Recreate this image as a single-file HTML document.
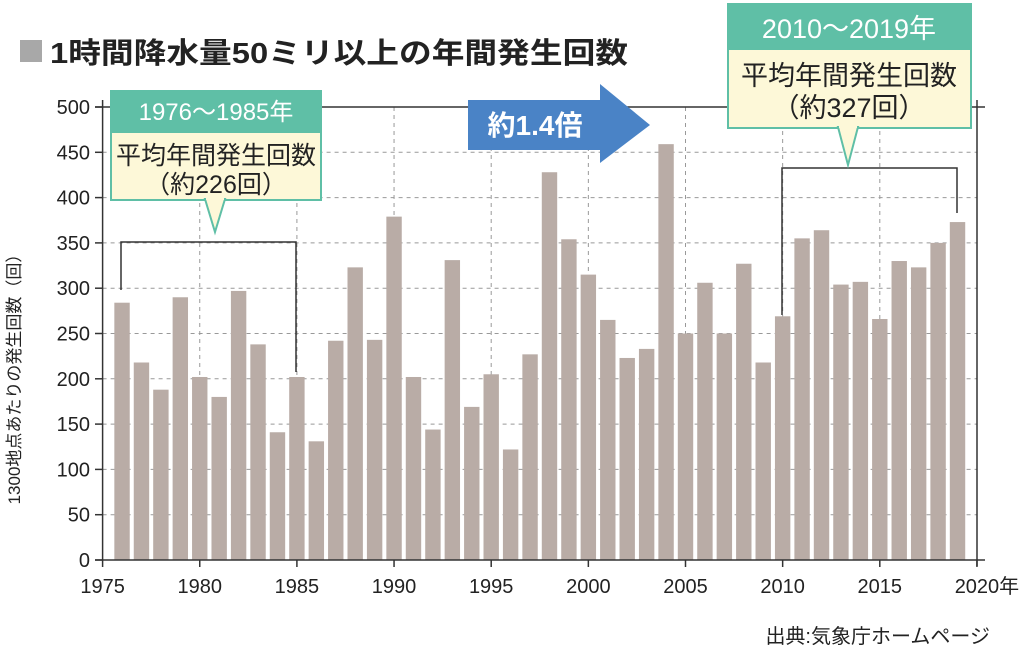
<!DOCTYPE html>
<html><head><meta charset="utf-8"><style>
body{margin:0;background:#fff;}
svg text{font-family:"Liberation Sans","Noto Sans CJK JP",sans-serif;}
</style></head><body>
<svg width="1024" height="647" viewBox="0 0 1024 647" xmlns="http://www.w3.org/2000/svg">
<rect width="1024" height="647" fill="#fff"/>
<rect x="20" y="40" width="22" height="22" fill="#a8a8a8"/>
<text x="50" y="63" font-size="29" font-weight="bold" fill="#222" textLength="578" lengthAdjust="spacingAndGlyphs">1時間降水量50ミリ以上の年間発生回数</text>
<g id="grid" stroke="#999" stroke-dasharray="4,4" stroke-width="1"></g>
<g id="bars" fill="#b9aca6"></g>
<g stroke="#333" stroke-width="1.5" fill="none">
<line x1="102.6" y1="100" x2="102.6" y2="560"/>
<line x1="95" y1="560" x2="985" y2="560"/>
<line x1="95" y1="107" x2="985" y2="107"/>
<line x1="977" y1="100" x2="977" y2="566"/>
<polyline points="121,290 121,242 296,242 296,372"/>
<polyline points="782,315 782,168 957,168 957,213"/>
</g>
<g id="ticks" stroke="#333" stroke-width="1.5"></g>
<g id="labels" font-size="20" fill="#222"></g>
<text transform="translate(20,375) rotate(-90)" font-size="17" text-anchor="middle" fill="#222">1300地点あたりの発生回数（回）</text>
<!-- callout 1 -->
<rect x="110" y="90" width="212" height="42" fill="#5fbfa6"/>
<rect x="111" y="132" width="210" height="68" fill="#fdf8d8" stroke="#5fbfa6" stroke-width="2"/>
<polygon points="205,199 225,199 215,232" fill="#fdf8d8" stroke="#5fbfa6" stroke-width="2"/>
<rect x="206" y="196" width="18" height="4" fill="#fdf8d8"/>
<text x="216" y="120" font-size="24" fill="#fff" text-anchor="middle">1976〜1985年</text>
<text x="216" y="164" font-size="25" fill="#222" text-anchor="middle">平均年間発生回数</text>
<text x="216" y="193" font-size="25" fill="#222" text-anchor="middle">（約226回）</text>
<!-- callout 2 -->
<rect x="727" y="3" width="245" height="46" fill="#5fbfa6"/>
<rect x="728" y="49" width="243" height="79" fill="#fdf8d8" stroke="#5fbfa6" stroke-width="2"/>
<polygon points="838,127 858,127 848,165" fill="#fdf8d8" stroke="#5fbfa6" stroke-width="2"/>
<rect x="839" y="124" width="18" height="4" fill="#fdf8d8"/>
<text x="849" y="38" font-size="27" fill="#fff" text-anchor="middle">2010〜2019年</text>
<text x="849" y="85" font-size="27" fill="#222" text-anchor="middle">平均年間発生回数</text>
<text x="849" y="117" font-size="27" fill="#222" text-anchor="middle">（約327回）</text>
<!-- arrow -->
<polygon points="468,100 600,100 600,84 650,125 600,163 600,150 468,150" fill="#4a83c6"/>
<text x="535" y="135" font-size="28" font-weight="bold" fill="#fff" text-anchor="middle">約1.4倍</text>
<text x="990" y="643" font-size="20" fill="#222" text-anchor="end">出典:気象庁ホームページ</text>
</svg>
<script>
const ns="http://www.w3.org/2000/svg";
const X=y=>102.6+(y-1975)*19.43, Y=v=>560-v*0.906;
const vals=[284,218,188,290,202,180,297,238,141,202,131,242,323,243,379,202,144,331,169,205,122,227,428,354,315,265,223,233,459,250,306,250,327,218,269,355,364,304,307,266,330,323,350,373];
function el(p,t,a,txt){const e=document.createElementNS(ns,t);for(const k in a)e.setAttribute(k,a[k]);if(txt)e.textContent=txt;document.getElementById(p).appendChild(e);}
for(let v=50;v<=450;v+=50)el("grid","line",{x1:102.6,x2:977,y1:Y(v),y2:Y(v)});
for(let y=1980;y<=2015;y+=5)el("grid","line",{x1:X(y),x2:X(y),y1:107,y2:560});
vals.forEach((v,i)=>el("bars","rect",{x:X(1976+i)-7.7,y:Y(v),width:15.4,height:v*0.906}));
for(let v=0;v<=500;v+=50){el("ticks","line",{x1:95,x2:102.6,y1:Y(v),y2:Y(v)});el("labels","text",{x:90,y:Y(v)+7,"text-anchor":"end"},String(v));}
for(let y=1975;y<=2020;y+=5){el("ticks","line",{x1:X(y),x2:X(y),y1:560,y2:567});el("labels","text",{x:X(y)+(y==2020?10:0),y:593,"text-anchor":"middle"},y==2020?"2020年":String(y));}
</script>
</body></html>
